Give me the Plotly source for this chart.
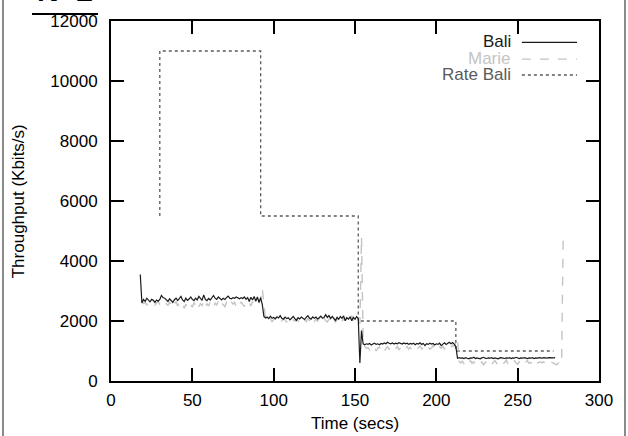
import plotly.graph_objects as go

# Throughput samples, one per second
bali_t0 = 18
bali_kbps = [
    3550, 2600, 2720, 2650, 2760, 2680, 2640, 2720, 2690, 2620,
    2700, 2660, 2720, 2850, 2780, 2760, 2700, 2650, 2740, 2690,
    2620, 2710, 2760, 2680, 2740, 2820, 2700, 2650, 2760, 2690,
    2730, 2800, 2720, 2680, 2760, 2700, 2820, 2760, 2690, 2870,
    2720, 2680, 2750, 2700, 2780, 2850, 2760, 2720, 2800, 2740,
    2700, 2760, 2720, 2780, 2830, 2760, 2740, 2780, 2760, 2800,
    2770, 2740, 2780, 2750, 2800, 2720, 2780, 2650, 2790, 2700,
    2820, 2660, 2800, 2620, 2780, 2550, 2150, 2100, 2130, 2080,
    2160, 2090, 2120, 2070, 2140, 2100, 2180, 2090, 2060, 2130,
    2080, 2110, 2040, 2100, 2150, 2080, 2020, 2110, 2070, 2130,
    2090, 2050, 2120, 2180, 2100, 2060, 2140, 2090, 2130, 2070,
    2110, 2160, 2090, 2120, 2210, 2120, 2180, 2080, 2150, 2100,
    2020, 2120, 2060, 2150, 2090, 2170, 2010, 2110, 2060, 2140,
    2010, 2120, 2060, 2150, 2080, 600, 1680, 1240, 1210, 1240,
    1220, 1250, 1200, 1230, 1260, 1220, 1240, 1210, 1250, 1230,
    1270, 1240, 1290, 1260, 1240, 1270, 1230, 1260, 1240, 1280,
    1250, 1230, 1270, 1240, 1260, 1220, 1250, 1230, 1260, 1210,
    1250, 1230, 1270, 1220, 1250, 1180, 1240, 1220, 1260, 1230,
    1250, 1200, 1240, 1220, 1260, 1180, 1230, 1270, 1220, 1260,
    1290, 1240, 1280, 1230, 1150, 760, 780, 760, 770, 750,
    780, 760, 740, 770, 760, 790, 750, 770, 760, 740,
    770, 790, 760, 750, 770, 760, 780, 750, 770, 760,
    740, 770, 780, 760, 750, 770, 760, 780, 750, 770,
    760, 790, 760, 750, 770, 760, 780, 760, 750, 770,
    760, 780, 750, 770, 760, 780, 770, 760, 780, 770,
    760, 780, 770, 780, 770, 780,
]

marie_t0 = 19
marie_kbps = [
    2650, 2580, 2620, 2540, 2600, 2560, 2620, 2580, 2530, 2600,
    2650, 2560, 2600, 2540, 2480, 2580, 2520, 2620, 2560, 2440,
    2580, 2640, 2500, 2600, 2560, 2620, 2420, 2560, 2480, 2620,
    2540, 2460, 2600, 2540, 2660, 2480, 2580, 2520, 2640, 2460,
    2580, 2500, 2620, 2560, 2440, 2600, 2540, 2660, 2500, 2600,
    2540, 2480, 2620, 2560, 2500, 2640, 2560, 2620, 2480, 2580,
    2520, 2640, 2560, 2480, 2620, 2540, 2600, 2500, 2650, 2560,
    2620, 2700, 2600, 2750, 3080, 2500, 2050, 2080, 2010, 2060,
    1980, 2040, 2100, 2020, 1960, 2050, 2000, 2080, 2030, 1970,
    2060, 2010, 2090, 2040, 1990, 2060, 2020, 1950, 2040, 2100,
    2030, 1980, 2070, 2020, 2150, 2040, 1980, 2060, 2000, 2080,
    1940, 2030, 2090, 2010, 1970, 2060, 2120, 2000, 2070, 1950,
    2050, 2170, 2020, 1980, 2080, 2030, 2140, 1970, 2060, 2180,
    2010, 1990, 2080, 2020, 1900, 4800, 1300, 1150, 1080, 1120,
    1040, 1100, 1060, 1140, 1000, 1090, 1130, 1050, 1110, 980,
    1080, 1140, 1060, 1100, 1030, 1120, 1070, 1150, 1040, 1110,
    1080, 1000, 1100, 1150, 1060, 1120, 1040, 1090, 1130, 1050,
    1100, 1170, 1070, 1110, 1020, 1090, 1140, 1060, 1100, 1180,
    1080, 1120, 1050, 1130, 1090, 1160, 1070, 1140, 1100, 1180,
    1120, 1200, 1150, 1300, 1420, 650, 600, 660, 580, 640,
    540, 620, 680, 590, 640, 560, 620, 660, 580, 630,
    540, 610, 670, 590, 640, 560, 620, 680, 600, 540,
    630, 660, 580, 620, 700, 590, 640, 550, 620, 670,
    600, 560, 640, 690, 600, 560, 630, 680, 590, 620,
    560, 640, 690, 600, 620, 640, 600, 640, 580, 620,
    600, 560, 620, 590, 580, 540, 600, 570, 560, 4900,
]

# Configured sending rate for Bali (step changes)
rate_t = [30, 30, 92, 152, 212, 272]
rate_kbps = [5500, 11000, 5500, 2000, 1000, 1000]

x_ticks = [0, 50, 100, 150, 200, 250, 300]
x_tick_labels = ["0", "50", "100", "150", "200", "250", "300"]
y_ticks = [0, 2000, 4000, 6000, 8000, 10000, 12000]
y_tick_labels = ["0", "2000", "4000", "6000", "8000", "10000", "12000"]

bali_t = [bali_t0 + i for i in range(len(bali_kbps))]
marie_t = [marie_t0 + i for i in range(len(marie_kbps))]

FONT = "Liberation Sans, Arial, sans-serif"
FS = 17
BALI_C = "#1a1a1a"
MARIE_C = "#c4c4c4"
RATE_C = "#5a5a5a"

fig = go.Figure()
fig.add_trace(go.Scatter(x=rate_t, y=rate_kbps, mode="lines", name="Rate Bali",
                         line=dict(color=RATE_C, width=1.3, dash="dot", shape="hv")))
fig.add_trace(go.Scatter(x=marie_t, y=marie_kbps, mode="lines", name="Marie",
                         line=dict(color=MARIE_C, width=1.4, dash="dash")))
fig.add_trace(go.Scatter(x=bali_t, y=bali_kbps, mode="lines", name="Bali",
                         line=dict(color=BALI_C, width=1.2)))

axis_common = dict(
    showline=True, linecolor="black", linewidth=2, mirror="allticks",
    ticks="inside", ticklen=13, tickwidth=2, tickcolor="black",
    showgrid=False, zeroline=False,
    tickfont=dict(family=FONT, size=FS, color="black"),
)

fig.update_xaxes(range=[0, 300], tickmode="array", tickvals=x_ticks,
                 ticktext=x_tick_labels, ticklabelstandoff=3, **axis_common)
fig.update_yaxes(range=[0, 12000], tickmode="array", tickvals=y_ticks,
                 ticktext=y_tick_labels, ticklabelstandoff=8, **axis_common)

# Axis titles
fig.add_annotation(x=0.5, y=-0.118, xref="paper", yref="paper", text="Time (secs)",
                   showarrow=False, xanchor="center", yanchor="middle",
                   font=dict(family=FONT, size=FS, color="black"))
fig.add_annotation(x=-0.19, y=0.5, xref="paper", yref="paper",
                   text="Throughput (Kbits/s)", textangle=-90,
                   showarrow=False, xanchor="center", yanchor="middle",
                   font=dict(family=FONT, size=FS, color="black"))

# Key drawn gnuplot-style: label on the left, line sample on the right
legend_rows = [("Bali", BALI_C, "solid", 1.2),
               ("Marie", MARIE_C, "dash", 1.4),
               ("Rate Bali", RATE_C, "dot", 1.3)]
text_colors = ["#1a1a1a", "#c4c4c4", "#5a5a5a"]
row_y = [0.9445, 0.898, 0.854]
for (label, col, dash, w), tc, yy in zip(legend_rows, text_colors, row_y):
    fig.add_annotation(x=0.821, y=yy, xref="paper", yref="paper", text=label,
                       showarrow=False, xanchor="right", yanchor="middle",
                       height=14, borderpad=0,
                       font=dict(family=FONT, size=FS, color=tc))
    fig.add_shape(type="line", xref="paper", yref="paper", x0=0.842, x1=0.955,
                  y0=yy - 0.004, y1=yy - 0.004, line=dict(color=col, width=w, dash=dash))

# Page frame and heading
fig.add_shape(type="line", xref="paper", yref="paper", x0=-0.2213, x1=-0.2213,
              y0=-0.2, y1=1.1, line=dict(color="#8a8a8a", width=2))
fig.add_shape(type="line", xref="paper", yref="paper", x0=1.0533, x1=1.0533,
              y0=-0.2, y1=1.1, line=dict(color="#8a8a8a", width=2))
fig.add_shape(type="line", xref="paper", yref="paper", x0=-0.1619, x1=-0.0266,
              y0=1.0192, y1=1.0192, line=dict(color="black", width=2))
fig.add_annotation(x=-0.094, y=1.032, xref="paper", yref="paper", text="<b>N=2</b>",
                   showarrow=False, xanchor="center", yanchor="bottom",
                   font=dict(family=FONT, size=30, color="black"))

fig.update_layout(
    width=628, height=436,
    margin=dict(l=111, r=29, t=16, b=55),
    paper_bgcolor="white", plot_bgcolor="white",
    showlegend=False,
)

fig.write_html("out.html")
